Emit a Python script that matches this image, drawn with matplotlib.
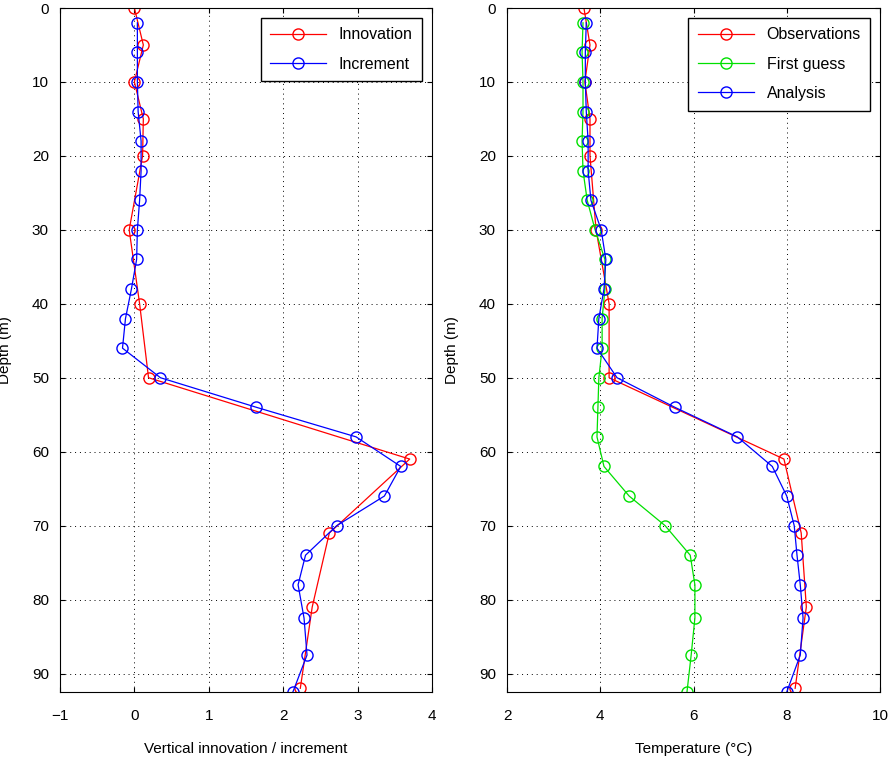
import matplotlib
matplotlib.use('Agg')
import matplotlib.pyplot as plt

plt.rcParams['font.family'] = ['Liberation Sans', 'DejaVu Sans']
plt.rcParams['font.size'] = 11

# left panel
innov_depth = [0, 5, 10, 15, 20, 30, 40, 50, 61, 71, 81, 92]
innov_val = [0.0, 0.12, 0.0, 0.12, 0.11, -0.07, 0.07, 0.19, 3.7, 2.62, 2.39, 2.23]
grid_depth = [2, 6, 10, 14, 18, 22, 26, 30, 34, 38, 42, 46, 50, 54, 58, 62, 66, 70,
              74, 78, 82.5, 87.5, 92.5]
incr_val = [0.04, 0.04, 0.04, 0.05, 0.09, 0.09, 0.07, 0.04, 0.03, -0.04, -0.12, -0.16,
            0.35, 1.64, 2.98, 3.58, 3.36, 2.72, 2.3, 2.2, 2.28, 2.32, 2.13]

# right panel
obs_temp = [3.65, 3.78, 3.67, 3.78, 3.78, 3.91, 4.19, 4.19, 7.94, 8.31, 8.42, 8.18]
fg_temp = [3.63, 3.61, 3.63, 3.63, 3.61, 3.63, 3.72, 3.89, 4.1, 4.1, 4.04, 4.04,
           3.97, 3.95, 3.93, 4.08, 4.62, 5.39, 5.93, 6.03, 6.03, 5.95, 5.86]
ana_temp = [3.7, 3.68, 3.68, 3.7, 3.74, 3.74, 3.8, 4.02, 4.12, 4.08, 3.97, 3.93,
            4.36, 5.6, 6.94, 7.69, 8.0, 8.16, 8.22, 8.29, 8.35, 8.29, 8.0]

fig = plt.figure(figsize=(8.88, 7.57), dpi=100)
W, H = 888, 757
ax1 = fig.add_axes([60 / W, 1 - 692 / H, 372 / W, 684 / H])
ax2 = fig.add_axes([507 / W, 1 - 692 / H, 373 / W, 684 / H])

mk = dict(marker='o', markerfacecolor='none', markersize=8, lw=0.9)
ax1.plot(innov_val, innov_depth, color='red', label='Innovation', **mk)
ax1.plot(incr_val, grid_depth, color='blue', label='Increment', **mk)
ax1.set_xlim(-1, 4)
ax1.set_xticks(range(-1, 5))
ax1.set_xlabel('Vertical innovation / increment', labelpad=14)

ax2.plot(obs_temp, innov_depth, color='red', label='Observations', **mk)
ax2.plot(fg_temp, grid_depth, color='#00e000', label='First guess', **mk)
ax2.plot(ana_temp, grid_depth, color='blue', label='Analysis', **mk)
ax2.set_xlim(2, 10)
ax2.set_xticks(range(2, 11, 2))
ax2.set_xlabel('Temperature (°C)', labelpad=14)

for ax in (ax1, ax2):
    ax.set_ylim(92.5, 0)
    ax.set_yticks(range(0, 91, 10))
    ax.set_ylabel('Depth (m)', labelpad=14)
    ax.grid(True, color='black', linestyle=(0, (1, 4)), lw=0.7)
    ax.tick_params(direction='in', top=True, right=True, labelsize=11)
    ax.tick_params(axis='x', pad=12)
    ax.tick_params(axis='y', pad=8)
    ax.legend(loc='upper right', fancybox=False, edgecolor='black', framealpha=1,
              handlelength=3.5, fontsize=11.5, labelspacing=0.9,
              borderpad=0.6, borderaxespad=0.6)

fig.savefig('out.png', dpi=100)
